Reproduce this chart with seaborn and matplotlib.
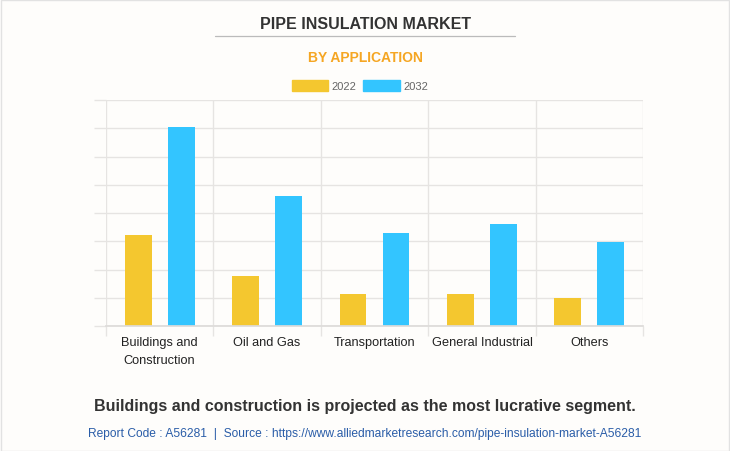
import pandas as pd
import matplotlib.pyplot as plt
import seaborn as sns
from matplotlib.lines import Line2D

# Values (one grid step = 1 unit)
categories = ["Buildings and\nConstruction", "Oil and Gas", "Transportation",
              "General Industrial", "Others"]
years = ["2022", "2032"]
values_2022 = [3.22, 1.77, 1.13, 1.13, 0.99]
values_2032 = [7.04, 4.60, 3.29, 3.61, 2.97]

df = pd.DataFrame({
    "application": categories * 2,
    "year": [years[0]] * len(categories) + [years[1]] * len(categories),
    "value": values_2022 + values_2032,
})

palette = {"2022": "#F4C72F", "2032": "#33C5FF"}
bg = "#FEFDFB"
grid_col = "#E6E4E2"

sns.set_theme(style="white")
plt.rcParams["font.family"] = ["Liberation Sans", "DejaVu Sans"]

fig = plt.figure(figsize=(7.3, 4.52), dpi=100, facecolor=bg)
ax = fig.add_axes([0.145, 0.2765, 0.736, 0.500], facecolor=bg)

sns.barplot(data=df, x="application", y="value", hue="year", palette=palette,
            order=categories, hue_order=years, width=0.8, gap=0.375,
            saturation=1, edgecolor="none", legend=False, ax=ax)

ax.set_xlim(-0.5, len(categories) - 0.5)
ax.set_ylim(0, 8)
ax.set_yticks(range(0, 9))
ax.set_yticklabels([])
ax.set_xticks(range(len(categories)))
ax.set_xticklabels(categories, fontsize=9.2, color="#222222", linespacing=1.7)
ax.set_xticks([i - 0.5 for i in range(len(categories) + 1)], minor=True)
ax.tick_params(axis="x", which="major", length=0, pad=7)
ax.tick_params(axis="x", which="minor", bottom=True, length=7, color=grid_col, width=1)
ax.tick_params(axis="y", left=True, length=9, color=grid_col, width=1)
ax.grid(axis="y", color=grid_col, linewidth=1)
ax.grid(axis="x", which="minor", color=grid_col, linewidth=1)
ax.set_axisbelow(True)
ax.set_xlabel("")
ax.set_ylabel("")
for s in ["top", "right", "left"]:
    ax.spines[s].set_visible(False)
ax.spines["bottom"].set_color("#DDDBD9")

# legend
handles = [plt.Rectangle((0, 0), 1, 1, color=palette[y]) for y in years]
fig.legend(handles, years, loc="center", bbox_to_anchor=(0.493, 0.808), ncol=2,
           frameon=False, fontsize=8, labelcolor="#666666", handlelength=3.3,
           handleheight=1.1, handletextpad=0.3, columnspacing=0.6)

# titles
fig.text(0.5, 1 - 24.5 / 452, "PIPE INSULATION MARKET", ha="center", va="center",
         fontsize=11.5, fontweight="bold", color="#333333")
fig.add_artist(Line2D([215 / 730, 515 / 730], [1 - 36.5 / 452] * 2,
                      color="#BBBBBB", linewidth=0.9))
fig.text(0.5, 1 - 58.5 / 452, "BY APPLICATION", ha="center", va="center",
         fontsize=10, fontweight="bold", color="#F5A623")

fig.text(0.5, 1 - 406.5 / 452, "Buildings and construction is projected as the most lucrative segment.",
         ha="center", va="center", fontsize=11.55, fontweight="bold", color="#333333")
fig.text(0.5, 1 - 434 / 452,
         "Report Code : A56281  |  Source : https://www.alliedmarketresearch.com/pipe-insulation-market-A56281",
         ha="center", va="center", fontsize=8.65, color="#2A5DA8")

# light frame around the card
fig.add_artist(plt.Rectangle((0.001, 0.001), 0.998, 0.997, transform=fig.transFigure,
                             fill=False, edgecolor="#E2E2E2", linewidth=1))

plt.savefig("out.png", dpi=100, facecolor=bg)
